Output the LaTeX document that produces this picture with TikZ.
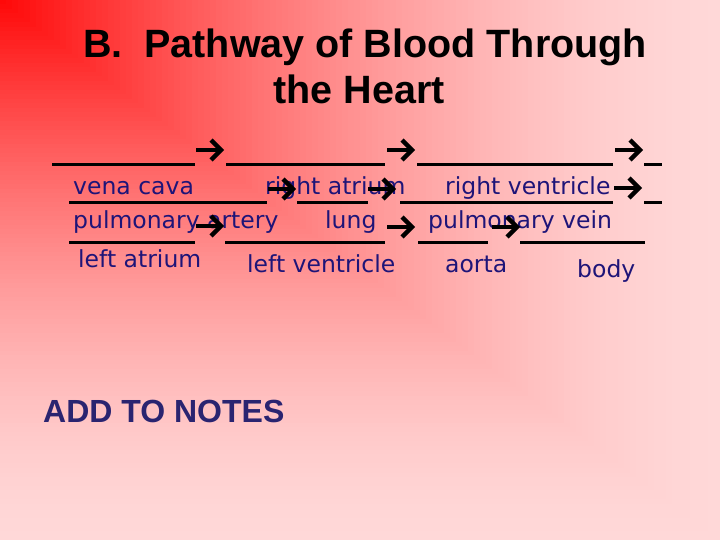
\documentclass[tikz,border=0pt]{standalone}
\usepackage{fontspec}
\setmainfont{DejaVu Sans}
\newfontfamily\titlef{Liberation Sans}
\newcommand\bodyf{\fontsize{23.5}{28}\selectfont}
\definecolor{bga}{HTML}{FF0808}
\definecolor{bge}{HTML}{FFD8D8}
\definecolor{navy}{HTML}{1E1478}
\definecolor{notesc}{HTML}{2A2470}
\tikzset{
  lbl/.style={anchor=base west, inner sep=0pt, text=navy, font=\bodyf},
  uline/.style={line width=3pt, black},
  wing/.pic={
    \draw[line width=4.4pt, black] (0,0) -- (25,0);
    \draw[line width=4.4pt, black, miter limit=10] (15,-10) -- (25,0) -- (15,10);
  }
}
\begin{document}
\begin{tikzpicture}[x=1pt,y=-1pt]
\useasboundingbox (0,0) rectangle (720,540);
\fill[bge] (0,0) rectangle (720,540);
\foreach \i in {120,...,1} {
  \pgfmathsetmacro\tt{\i/120}
  \pgfmathsetmacro\pp{100*(1-\tt+0.004)^1.6}
  \fill[bga!\pp!bge] (0,0) rectangle (720*\tt,540*\tt);
}
% title
\node[anchor=base, inner sep=0pt, font={\titlef\bfseries\fontsize{39.5}{44}\selectfont}] (title1) at (365,58) {B.\ \ Pathway of Blood Through};
\node[anchor=base, inner sep=0pt, font={\titlef\bfseries\fontsize{39.5}{44}\selectfont}] (title2) at (359,104) {the Heart};
% underlines row 1
\draw[uline] (52,165) -- (195,165);
\draw[uline] (226,165) -- (385,165);
\draw[uline] (417,165) -- (613,165);
\draw[uline] (644,165) -- (662,165);
% underlines row 2
\draw[uline] (69,203) -- (267,203);
\draw[uline] (297,203) -- (368,203);
\draw[uline] (400,203) -- (613,203);
\draw[uline] (644,203) -- (662,203);
% underlines row 3
\draw[uline] (69,242) -- (195,242);
\draw[uline] (225,242) -- (385,242);
\draw[uline] (418,242) -- (488,242);
\draw[uline] (520,242) -- (645,242);
% labels
\node[lbl] (vc) at (73,195) {vena cava};
\node[lbl] (ra) at (265,195) {right atrium};
\node[lbl] (rv) at (445,195) {right ventricle};
\node[lbl] (pa) at (73,229) {pulmonary artery};
\node[lbl] (lu) at (325,229) {lung};
\node[lbl] (pv) at (428,229) {pulmonary vein};
\node[lbl] (la) at (78,267) {left atrium};
\node[lbl] (lv) at (247,272) {left ventricle};
\node[lbl] (ao) at (445,272) {aorta};
\node[lbl] (bo) at (577,277) {body};
% arrows
\pic at (196,150) {wing};
\pic at (387,150) {wing};
\pic at (615,150) {wing};
\pic at (268,189) {wing};
\pic at (368,189) {wing};
\pic at (614,188) {wing};
\pic at (196,226) {wing};
\pic at (387,227) {wing};
\pic at (492,227) {wing};
% notes
\node[anchor=base west, inner sep=0pt, text=notesc, font={\titlef\bfseries\fontsize{32}{36}\selectfont}] (notes) at (43,422) {ADD TO NOTES};
\end{tikzpicture}
\end{document}
